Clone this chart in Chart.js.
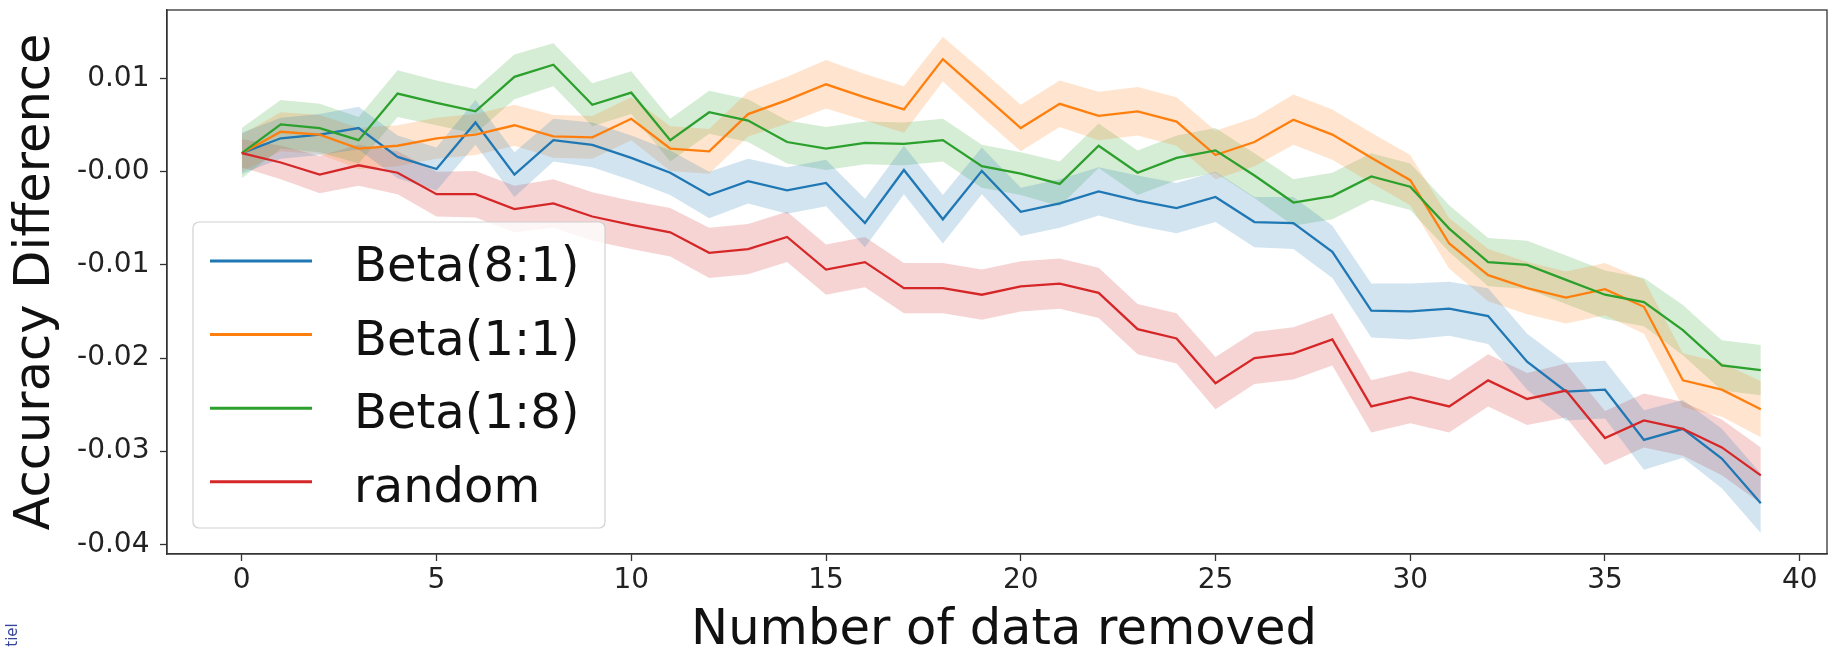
<!DOCTYPE html>
<html lang="en">
<head>
<meta charset="UTF-8">
<title>Accuracy Difference</title>
<script src="https://cdn.jsdelivr.net/npm/chart.js"></script>
<style>
    html, body { margin: 0; padding: 0; background: #ffffff; }
    #chart { display: block; }
</style>
</head>
<body>
<canvas id="chart" width="1834" height="648"></canvas>
<script>
    // number of data points removed (x axis)
    const removed = [0, 1, 2, 3, 4, 5, 6, 7, 8, 9, 10, 11, 12, 13, 14, 15, 16, 17, 18, 19,
                     20, 21, 22, 23, 24, 25, 26, 27, 28, 29, 30, 31, 32, 33, 34, 35, 36, 37, 38, 39];

    const seriesNames = ['Beta(8:1)', 'Beta(1:1)', 'Beta(1:8)', 'random'];

    // mean accuracy difference per series
    const beta81 = [0.0020, 0.0036, 0.0040, 0.0047, 0.0016, 0.0003, 0.0053, -0.0003, 0.0034, 0.0029,
                    0.0015, -0.0001, -0.0025, -0.0010, -0.0020, -0.0012, -0.0055, 0.0002, -0.0051, 0.0001,
                    -0.0043, -0.0034, -0.0021, -0.0031, -0.0039, -0.0027, -0.0054, -0.0055, -0.0086, -0.0149,
                    -0.0150, -0.0147, -0.0155, -0.0204, -0.0236, -0.0234, -0.0288, -0.0276, -0.0308, -0.0356];
    const beta11 = [0.0020, 0.0043, 0.0040, 0.0025, 0.0028, 0.0036, 0.0040, 0.0050, 0.0038, 0.0037,
                    0.0057, 0.0025, 0.0022, 0.0062, 0.0077, 0.0094, 0.0080, 0.0067, 0.0121, 0.0084,
                    0.0047, 0.0073, 0.0060, 0.0065, 0.0054, 0.0018, 0.0032, 0.0056, 0.0040, 0.0015,
                    -0.0009, -0.0077, -0.0111, -0.0125, -0.0135, -0.0126, -0.0145, -0.0224, -0.0234, -0.0255];
    const beta18 = [0.0020, 0.0051, 0.0047, 0.0034, 0.0084, 0.0074, 0.0065, 0.0102, 0.0115, 0.0072,
                    0.0085, 0.0034, 0.0064, 0.0055, 0.0032, 0.0025, 0.0031, 0.0030, 0.0034, 0.0006,
                    -0.0002, -0.0013, 0.0028, -0.0001, 0.0015, 0.0023, -0.0004, -0.0033, -0.0026, -0.0005,
                    -0.0016, -0.0061, -0.0097, -0.0100, -0.0116, -0.0132, -0.0140, -0.0170, -0.0208, -0.0213];
    const randomRemoval = [0.0020, 0.0010, -0.0003, 0.0007, -0.0001, -0.0024, -0.0024, -0.0040, -0.0034, -0.0048,
                    -0.0057, -0.0065, -0.0087, -0.0083, -0.0070, -0.0105, -0.0097, -0.0125, -0.0125, -0.0132,
                    -0.0123, -0.0120, -0.0130, -0.0169, -0.0179, -0.0227, -0.0200, -0.0195, -0.0180, -0.0252,
                    -0.0242, -0.0252, -0.0224, -0.0244, -0.0235, -0.0286, -0.0267, -0.0276, -0.0296, -0.0326];

    // half width of the shaded band per series
    const beta81Err = [0.0022, 0.0022, 0.0022, 0.0023, 0.0023, 0.0023, 0.0024, 0.0024, 0.0023, 0.0024,
                       0.0024, 0.0024, 0.0025, 0.0024, 0.0025, 0.0025, 0.0026, 0.0026, 0.0026, 0.0025,
                       0.0026, 0.0026, 0.0026, 0.0027, 0.0027, 0.0027, 0.0027, 0.0028, 0.0028, 0.0029,
                       0.0030, 0.0029, 0.0030, 0.0030, 0.0031, 0.0031, 0.0032, 0.0031, 0.0032, 0.0032];
    const beta11Err = [0.0020, 0.0021, 0.0021, 0.0022, 0.0022, 0.0022, 0.0022, 0.0022, 0.0023, 0.0023,
                       0.0023, 0.0024, 0.0024, 0.0024, 0.0025, 0.0026, 0.0025, 0.0025, 0.0024, 0.0025,
                       0.0025, 0.0025, 0.0026, 0.0026, 0.0026, 0.0026, 0.0026, 0.0027, 0.0027, 0.0027,
                       0.0027, 0.0027, 0.0028, 0.0028, 0.0028, 0.0028, 0.0029, 0.0029, 0.0029, 0.0030];
    const beta18Err = [0.0027, 0.0026, 0.0026, 0.0025, 0.0025, 0.0024, 0.0024, 0.0024, 0.0023, 0.0023,
                       0.0023, 0.0023, 0.0023, 0.0023, 0.0023, 0.0023, 0.0023, 0.0023, 0.0023, 0.0023,
                       0.0023, 0.0024, 0.0024, 0.0024, 0.0024, 0.0024, 0.0024, 0.0025, 0.0025, 0.0025,
                       0.0025, 0.0025, 0.0026, 0.0026, 0.0026, 0.0026, 0.0026, 0.0027, 0.0027, 0.0027];
    const randomErr = [0.0015, 0.0018, 0.0020, 0.0022, 0.0023, 0.0024, 0.0025, 0.0025, 0.0026, 0.0026,
                       0.0026, 0.0026, 0.0027, 0.0027, 0.0027, 0.0027, 0.0027, 0.0027, 0.0027, 0.0027,
                       0.0027, 0.0027, 0.0027, 0.0027, 0.0027, 0.0028, 0.0028, 0.0028, 0.0028, 0.0028,
                       0.0028, 0.0028, 0.0028, 0.0028, 0.0029, 0.0029, 0.0029, 0.0029, 0.0030, 0.0030];

    const xTicks = [0, 5, 10, 15, 20, 25, 30, 35, 40];
    const yTicks = [-0.04, -0.03, -0.02, -0.01, 0, 0.01];
    const yTickLabels = ['-0.04', '-0.03', '-0.02', '-0.01', '-0.00', '0.01'];
    const xTitle = 'Number of data removed';
    const yTitle = 'Accuracy Difference';

    const means = [beta81, beta11, beta18, randomRemoval];
    const errs = [beta81Err, beta11Err, beta18Err, randomErr];
    const lineColors = ['#1f77b4', '#ff7f0e', '#2ca02c', '#d62728'];
    const bandColors = ['rgba(31,119,180,0.2)', 'rgba(255,127,14,0.2)', 'rgba(44,160,44,0.2)', 'rgba(214,39,40,0.2)'];
    const FONT = 'DejaVu Sans';

    const datasets = [];
    means.forEach((vals, k) => {
        datasets.push({
            label: seriesNames[k],
            data: vals.map((v, i) => ({ x: removed[i], y: v })),
            borderColor: lineColors[k],
            borderWidth: 2.3,
            pointRadius: 0,
            tension: 0,
            fill: false,
            order: 3 - k,
            isSeries: true
        });
    });
    means.forEach((vals, k) => {
        datasets.push({
            data: vals.map((v, i) => ({ x: removed[i], y: v + errs[k][i] })),
            borderColor: 'rgba(0,0,0,0)',
            borderWidth: 0,
            pointRadius: 0,
            tension: 0,
            backgroundColor: bandColors[k],
            fill: '+1',
            order: 10 + k
        });
        datasets.push({
            data: vals.map((v, i) => ({ x: removed[i], y: v - errs[k][i] })),
            borderColor: 'rgba(0,0,0,0)',
            borderWidth: 0,
            pointRadius: 0,
            tension: 0,
            fill: false,
            order: 10 + k
        });
    });

    // top/right spines
    const framePlugin = {
        id: 'frame',
        afterDatasetsDraw(chart) {
            const { ctx, chartArea: a } = chart;
            ctx.save();
            ctx.strokeStyle = '#333';
            ctx.lineWidth = 1.3;
            ctx.strokeRect(a.left, a.top, a.right - a.left, a.bottom - a.top);
            ctx.restore();
        }
    };

    // matplotlib style legend, x axis title and stray caption text
    const legendPlugin = {
        id: 'mplLegend',
        afterDraw(chart) {
            const ctx = chart.ctx;
            const bx = 193, by = 222, bw = 412, bh = 306, r = 6;
            ctx.save();
            ctx.beginPath();
            ctx.moveTo(bx + r, by);
            ctx.arcTo(bx + bw, by, bx + bw, by + bh, r);
            ctx.arcTo(bx + bw, by + bh, bx, by + bh, r);
            ctx.arcTo(bx, by + bh, bx, by, r);
            ctx.arcTo(bx, by, bx + bw, by, r);
            ctx.closePath();
            ctx.fillStyle = 'rgba(255,255,255,0.8)';
            ctx.fill();
            ctx.strokeStyle = 'rgba(204,204,204,0.9)';
            ctx.lineWidth = 1.2;
            ctx.stroke();

            const items = chart.data.datasets.filter(d => d.isSeries);
            ctx.font = '48px "' + FONT + '"';
            ctx.textBaseline = 'alphabetic';
            ctx.textAlign = 'left';
            items.forEach((d, i) => {
                const y = 261 + i * 73.6;
                ctx.strokeStyle = d.borderColor;
                ctx.lineWidth = 3;
                ctx.beginPath();
                ctx.moveTo(210, y);
                ctx.lineTo(312, y);
                ctx.stroke();
                ctx.fillStyle = '#111';
                ctx.fillText(d.label, 354, y + 20);
            });

            // x axis title
            ctx.font = '49.6px "' + FONT + '"';
            ctx.textAlign = 'center';
            ctx.fillStyle = '#111';
            ctx.fillText(xTitle, 1004, 644);

            // cropped caption fragment at the bottom left
            ctx.translate(17, 635);
            ctx.rotate(-Math.PI / 2);
            ctx.font = '15px "' + FONT + '"';
            ctx.fillStyle = '#33449a';
            ctx.textAlign = 'center';
            ctx.fillText('tiel', 0, 0);
            ctx.restore();
        }
    };

    new Chart(document.getElementById('chart'), {
        type: 'line',
        data: { datasets },
        options: {
            responsive: false,
            animation: false,
            devicePixelRatio: 1,
            layout: { padding: { left: 0, top: 10, right: 7, bottom: 0 } },
            plugins: {
                legend: { display: false },
                tooltip: { enabled: false }
            },
            scales: {
                x: {
                    type: 'linear',
                    min: -1.92,
                    max: 40.7,
                    afterBuildTicks: s => { s.ticks = xTicks.map(v => ({ value: v })); },
                    afterFit: s => { s.height = 94; s.paddingLeft = 0; s.paddingRight = 0; },
                    ticks: {
                        autoSkip: false,
                        maxRotation: 0,
                        padding: 3,
                        color: '#222',
                        font: { family: FONT, size: 28 },
                        callback: v => String(v)
                    },
                    grid: { drawOnChartArea: false, drawTicks: true, tickLength: 7, tickWidth: 1.3, tickColor: '#333' },
                    border: { display: true, color: '#333', width: 1.3 },
                    title: { display: false }
                },
                y: {
                    type: 'linear',
                    min: -0.04105,
                    max: 0.01738,
                    afterBuildTicks: s => { s.ticks = yTicks.map(v => ({ value: v })); },
                    afterFit: s => { s.width = 167; s.paddingTop = 0; s.paddingBottom = 0; },
                    ticks: {
                        autoSkip: false,
                        padding: 10.5,
                        color: '#222',
                        font: { family: FONT, size: 28 },
                        callback: (v, i) => yTickLabels[i]
                    },
                    grid: { drawOnChartArea: false, drawTicks: true, tickLength: 7, tickWidth: 1.3, tickColor: '#333' },
                    border: { display: true, color: '#333', width: 1.3 },
                    title: {
                        display: true,
                        text: yTitle,
                        color: '#111',
                        font: { family: FONT, size: 49.5, lineHeight: 1.2 },
                        padding: { top: 6.5, bottom: 0 }
                    }
                }
            }
        },
        plugins: [framePlugin, legendPlugin]
    });
</script>
</body>
</html>
